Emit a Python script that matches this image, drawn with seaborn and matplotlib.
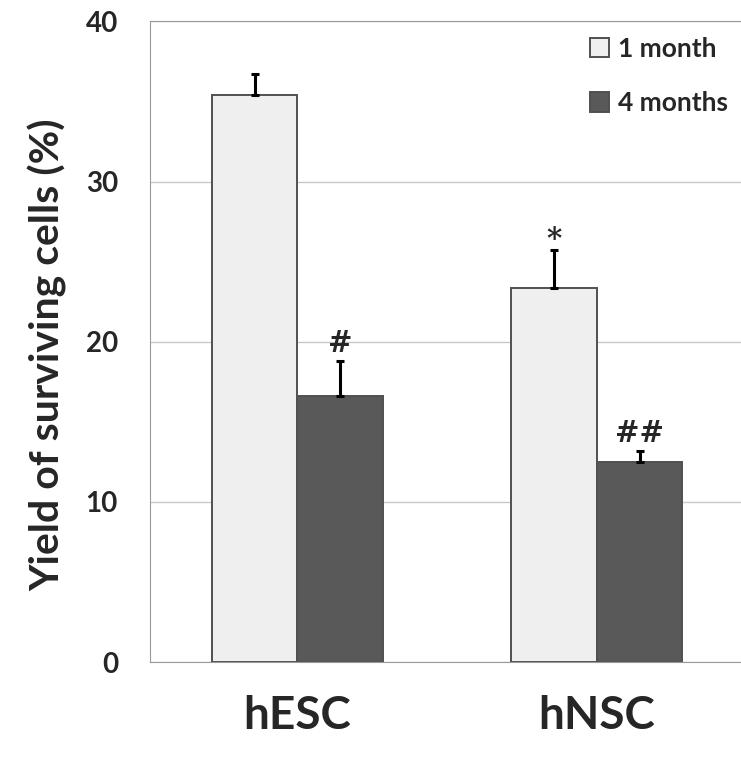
import pandas as pd
import matplotlib.pyplot as plt
import seaborn as sns

# Values
cells = ['hESC', 'hNSC']
times = ['1 month', '4 months']
yield_1m = [35.4, 23.35]
yield_4m = [16.6, 12.5]
err_1m = [1.3, 2.35]
err_4m = [2.2, 0.65]
marks_1m = ['', '*']
marks_4m = ['#', '##']

df = pd.DataFrame({
    'cell': cells * 2,
    'time': [times[0]] * 2 + [times[1]] * 2,
    'yield': yield_1m + yield_4m,
})

sns.set_style('white')
plt.rcParams['font.family'] = ['Lato', 'DejaVu Sans']

fig = plt.figure(figsize=(7.41, 7.62), dpi=100)
ax = fig.add_axes([0.2024, 0.1312, 0.7976, 0.8406])

colors = {'1 month': '#efefef', '4 months': '#595959'}
sns.barplot(data=df, x='cell', y='yield', hue='time', palette=colors,
            width=0.571, edgecolor='#505050', linewidth=1.4, ax=ax,
            errorbar=None)

errs = [err_1m, err_4m]
marks = [marks_1m, marks_4m]
bar_groups = list(ax.containers)
for i, cont in enumerate(bar_groups):
    for j, bar in enumerate(cont.patches):
        xc = bar.get_x() + bar.get_width() / 2
        top = bar.get_height()
        ax.errorbar([xc], [top], yerr=[[0], [errs[i][j]]], fmt='none',
                    ecolor='black', elinewidth=2.2, capsize=3, capthick=2.2)
        if marks[i][j]:
            off = 0.7 if marks[i][j] == '*' else 1.1
            ax.text(xc, top + errs[i][j] + off, marks[i][j], ha='center',
                    va='center', fontsize=21, fontweight='bold',
                    family='DejaVu Serif')

ax.set_ylim(0, 40)
ax.set_xlim(-0.4925, 1.481)
ax.set_yticks([0, 10, 20, 30, 40])
ax.yaxis.grid(True, color='#c8c8c8', linewidth=1)
ax.set_axisbelow(True)
ax.tick_params(axis='y', length=0, pad=23, labelsize=20)
ax.tick_params(axis='x', length=0, pad=24, labelsize=33)
for lab in ax.get_yticklabels() + ax.get_xticklabels():
    lab.set_fontweight('bold')
ax.set_xlabel('')
ax.set_ylabel('Yield of surviving cells (%)', fontsize=29.5,
              fontweight='bold')
ax.yaxis.set_label_coords(-0.14, 0.48)
for side in ['left', 'bottom', 'top']:
    ax.spines[side].set_color('#999999')
ax.spines['right'].set_visible(False)

leg = ax.legend(loc='upper left', bbox_to_anchor=(0.705, 1.013), frameon=False,
                fontsize=19, handlelength=0.7, handleheight=0.75,
                labelspacing=1.15, handletextpad=0.35)
for t in leg.get_texts():
    t.set_fontweight('bold')

fig.savefig('out.png', dpi=100)
